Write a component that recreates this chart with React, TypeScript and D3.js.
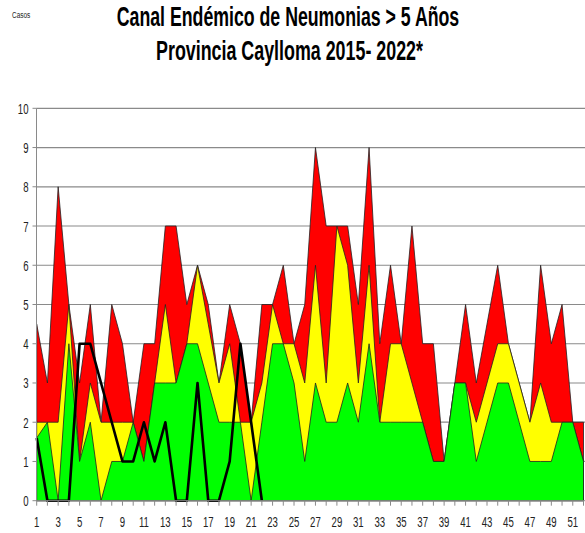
import React from "react";
import * as d3 from "d3";

const weeks: number[] = d3.range(1, 53);
// upper limits of each zone
const alarma: number[] = [4.5,3,8,5,3,5,2,5,4,2,4,4,7,7,5,6,5,3,5,4,2,5,5,6,4,5,9,7,7,7,5,9,4,6,4,7,4,4,1,3,5,3,4.5,6,4,3,2,6,4,5,2,2];
const seguridad: number[] = [2,2,2,5,1,3,2,2,2,2,1,3,5,3,4,6,4.5,3,4,2,2,3,5,4,4,3,6,3,7,6,3,6,2,4,4,3,2,1,1,3,3,2,3,4,4,3,2,3,2,2,2,1];
const exito: number[] = [1.6,2,0,4,1,2,0,1,1,2,1,3,3,3,4,4,3,2,2,2,0,2,4,4,3,1,3,2,2,3,2,4,2,2,2,2,2,1,1,3,3,1,2,3,3,2,1,1,1,2,2,1];
const casos2022: number[] = [1.6,0,0,0,4,4,3,2,1,1,2,1,2,0,0,3,0,0,1,4,2,0];
const yTicks: number[] = d3.range(0, 11);
const xTickLabels: number[] = d3.range(1, 53, 2);

const W = 585, H = 533;
const FONT = "'Liberation Sans', Arial, sans-serif";
const SX = 0.64; // horizontal squeeze of all text

function T(props: { x: number; y: number; size: number; anchor?: string; bold?: boolean; sx?: number; children: React.ReactNode; fill?: string }) {
  const { x, y, size, anchor = "start", bold = false, sx = SX, children, fill = "#222" } = props;
  return (
    <g transform={`translate(${x},${y}) scale(${sx},1)`}>
      <text x={0} y={0} textAnchor={anchor} fontFamily={FONT} fontSize={size} fontWeight={bold ? "bold" : "normal"} fill={fill}>
        {children}
      </text>
    </g>
  );
}

export default function App() {
  const x = d3.scaleLinear().domain([1, 52]).range([36.7, 583.5]);
  const y = d3.scaleLinear().domain([0, 10]).range([500.7, 108.3]);
  const area = (vals: number[]) =>
    d3.area<number>().x((_, i) => x(weeks[i])).y0(y(0)).y1((d) => y(d))(vals) || "";
  const line = d3.line<number>().x((_, i) => x(weeks[i])).y((d) => y(d))(casos2022) || "";
  const x0 = 36.5;
  return (
    <svg width={W} height={H} style={{ position: "absolute", left: 0, top: 0, background: "#fff" }}>
      <rect width={W} height={H} fill="#fff" />
      {yTicks.filter((t) => t > 0).map((t) => (
        <line key={"g" + t} x1={x0} x2={W} y1={y(t)} y2={y(t)} stroke="#8a8a8a" strokeWidth={1.2} />
      ))}
      <path d={area(alarma)} fill="#ff0000" stroke="#222" strokeWidth={0.8} strokeLinejoin="round" />
      <path d={area(seguridad)} fill="#ffff00" stroke="#222" strokeWidth={0.8} strokeLinejoin="round" />
      <path d={area(exito)} fill="#00ff00" stroke="#222" strokeWidth={0.8} strokeLinejoin="round" />
      <path d={line} fill="none" stroke="#000" strokeWidth={2.6} strokeLinejoin="round" />
      <line x1={x0} x2={x0} y1={y(10)} y2={y(0)} stroke="#8a8a8a" strokeWidth={1} />
      <line x1={x0} x2={W} y1={y(0)} y2={y(0)} stroke="#8a8a8a" strokeWidth={1} />
      {yTicks.map((t) => (
        <g key={"y" + t}>
          <line x1={x0 - 4} x2={x0} y1={y(t)} y2={y(t)} stroke="#8a8a8a" />
          <T x={28.5} y={y(t) + 5.5} size={15} anchor="end">{t}</T>
        </g>
      ))}
      {weeks.map((w) => (
        <line key={"xt" + w} x1={x(w)} x2={x(w)} y1={y(0)} y2={y(0) + 5} stroke="#8a8a8a" />
      ))}
      {xTickLabels.map((w) => (
        <T key={"xl" + w} x={x(w)} y={527} size={15} anchor="middle">{w}</T>
      ))}
      <T x={12} y={18} size={9.5} sx={0.68}>Casos</T>
      <T x={288} y={26} size={28} anchor="middle" bold sx={0.633} fill="#000">Canal Endémico de Neumonias &gt; 5 Años</T>
      <T x={289.5} y={60} size={28} anchor="middle" bold sx={0.638} fill="#000">Provincia Caylloma 2015- 2022*</T>
    </svg>
  );
}
